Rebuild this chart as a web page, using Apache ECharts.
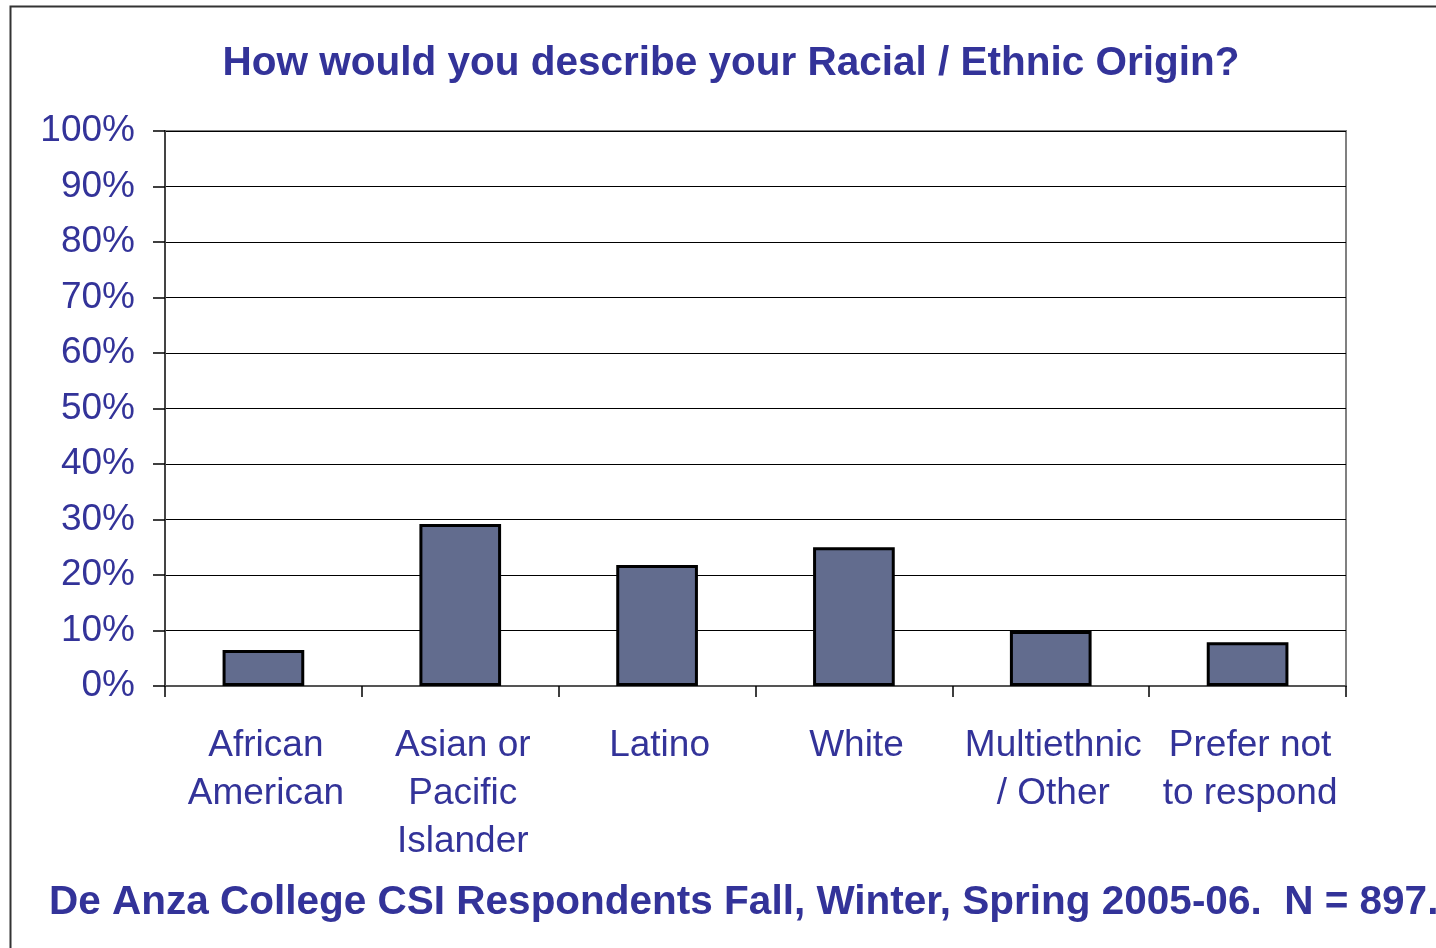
<!DOCTYPE html>
<html><head><meta charset="utf-8">
<script src="https://cdn.jsdelivr.net/npm/echarts@6/dist/echarts.min.js"></script>
<style>html,body{margin:0;padding:0;background:#fff}#c{width:1436px;height:948px}</style>
</head><body><div id="c"></div>
<script>
const categories = ['African\nAmerican', 'Asian or\nPacific\nIslander', 'Latino', 'White', 'Multiethnic\n/ Other', 'Prefer not\nto respond'];
const values = [6.5, 29.2, 21.8, 25.0, 9.9, 7.9];
const titleText = 'How would you describe your Racial / Ethnic Origin?';
const footerText = 'De Anza College CSI Respondents Fall, Winter, Spring 2005-06.  N = 897.';
const blue = '#333399';
const chart = echarts.init(document.getElementById('c'));
chart.setOption({
  animation: false,
  backgroundColor: '#fff',
  title: [
    {text: titleText, left: 726, textAlign: 'center', top: 38, textStyle: {fontFamily: 'Liberation Sans', fontSize: 40.5, fontWeight: 'bold', color: blue}},
    {text: footerText, left: 44, top: 877, textStyle: {fontFamily: 'Liberation Sans', fontSize: 40.5, fontWeight: 'bold', color: blue}}
  ],
  graphic: [
    {type: 'rect', shape: {x: 10.5, y: 6.5, width: 1500, height: 1000}, style: {fill: null, stroke: '#333', lineWidth: 2}, z: -1}
  ],
  grid: {left: 165, right: 90, top: 131, bottom: 262, show: true, borderColor: '#808080', borderWidth: 2, backgroundColor: 'transparent'},
  xAxis: {
    type: 'category', data: categories,
    axisLine: {lineStyle: {color: '#555', width: 2}},
    axisTick: {show: true, length: 11, lineStyle: {color: '#000', width: 1.5}, alignWithLabel: false},
    axisLabel: {fontFamily: 'Liberation Sans', fontSize: 37, color: blue, lineHeight: 48, margin: 36, interval: 0, padding: [0, 0, 0, 5]}
  },
  yAxis: {
    type: 'value', min: 0, max: 100, interval: 10,
    axisLine: {show: true, lineStyle: {color: '#444', width: 2}},
    axisTick: {show: true, length: 12, lineStyle: {color: '#000', width: 1.5}},
    splitLine: {lineStyle: {color: '#000', width: 1.2}},
    axisLabel: {formatter: '{value}%', fontFamily: 'Liberation Sans', fontSize: 37, color: blue, margin: 30, padding: [5, 0, 0, 0]}
  },
  series: [{
    type: 'bar', data: values, barWidth: '41.5%',
    itemStyle: {color: '#626c8e', borderColor: '#000', borderWidth: 3}
  }]
});
</script></body></html>
